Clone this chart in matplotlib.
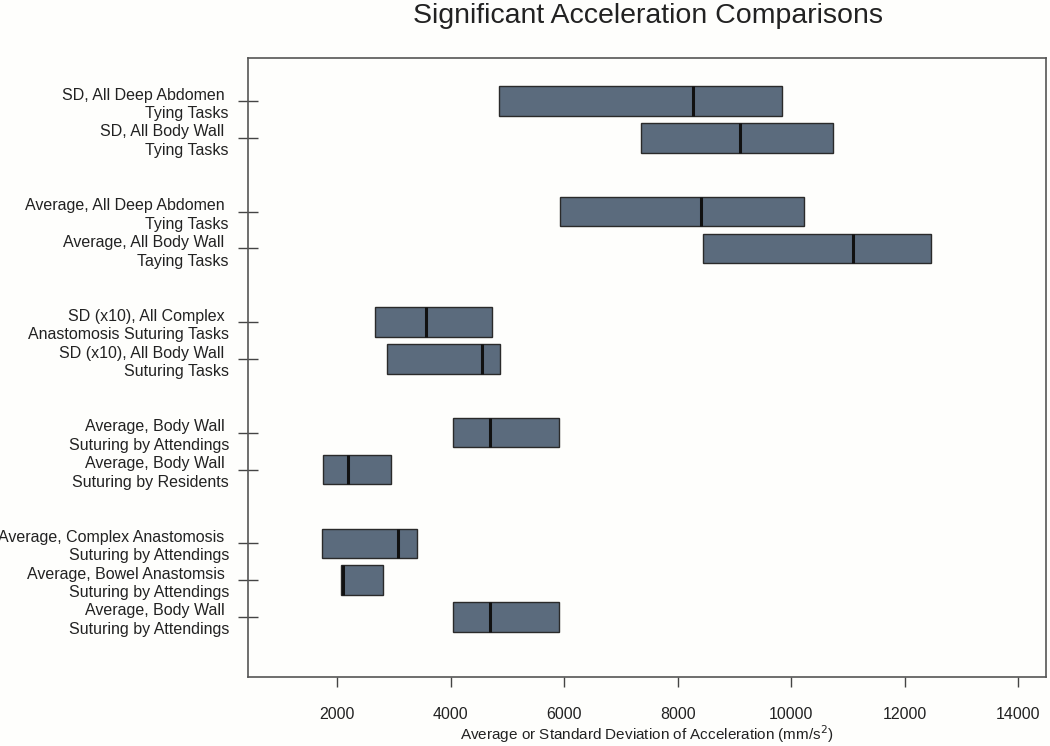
import matplotlib
matplotlib.use("Agg")
import matplotlib.pyplot as plt
import numpy as np

# row labels (top to bottom)
labels = [
    "SD, All Deep Abdomen \nTying Tasks",
    "SD, All Body Wall \nTying Tasks",
    "Average, All Deep Abdomen \nTying Tasks",
    "Average, All Body Wall \nTaying Tasks",
    "SD (x10), All Complex \nAnastomosis Suturing Tasks",
    "SD (x10), All Body Wall \nSuturing Tasks",
    "Average, Body Wall \nSuturing by Attendings",
    "Average, Body Wall \nSuturing by Residents",
    "Average, Complex Anastomosis \nSuturing by Attendings",
    "Average, Bowel Anastomsis \nSuturing by Attendings",
    "Average, Body Wall \nSuturing by Attendings",
]
group = [0, 0, 1, 1, 2, 2, 3, 3, 4, 4, 4]

low = [4855, 7357, 5930, 8449, 2670, 2881, 4044, 1753, 1736, 2070, 4044]
mid = [8273, 9101, 8414, 11092, 3559, 4555, 4696, 2194, 3075, 2106, 4696]
high = [9841, 10740, 10229, 12467, 4731, 4870, 5912, 2952, 3410, 2811, 5912]

xticks = [2000, 4000, 6000, 8000, 10000, 12000, 14000]

plt.rcParams['font.family'] = ['Liberation Sans', 'DejaVu Sans']

bg = '#fefefc'
fig = plt.figure(figsize=(10.5, 7.46), dpi=100, facecolor=bg)
ax = fig.add_axes([0.2362, 0.0925, 0.76, 0.8298], facecolor=bg)

low = np.array(low)
mid = np.array(mid)
high = np.array(high)
pos = np.arange(len(labels)) + np.array(group)
h = 0.8

ax.barh(pos, high - low, left=low, height=h, color='#5b6b7d',
        edgecolor='#2a2a2a', linewidth=1.0, zorder=2)
ax.vlines(mid, pos - h / 2, pos + h / 2, color='#111111', linewidth=2.2, zorder=3)

ax.set_xlim(430, 14490)
ax.set_ylim(15.63, -1.17)

ax.set_yticks(pos)
ax.set_yticklabels(labels, fontsize=11.5, ha='right', linespacing=1.3)
ax.set_xticks(xticks)
ax.set_xticklabels([str(t) for t in xticks], fontsize=11.5)

ax.tick_params(axis='y', direction='inout', length=14.4, width=1.0,
               color='#444444', pad=6.5, labelcolor='#222222')
ax.tick_params(axis='x', direction='out', length=7.2, width=1.0,
               color='#444444', pad=14.5, labelcolor='#222222')
for s in ax.spines.values():
    s.set_color('#555555')
    s.set_linewidth(1.2)

ax.set_xlabel("Average or Standard Deviation of Acceleration (mm/s$^2$)",
              fontsize=11, color='#222222', labelpad=1)
fig.text(0.617, 0.978, "Significant Acceleration Comparisons", fontsize=20.5,
         ha='center', va='center', color='#222222')

fig.savefig("out.png", dpi=100, facecolor=bg)
